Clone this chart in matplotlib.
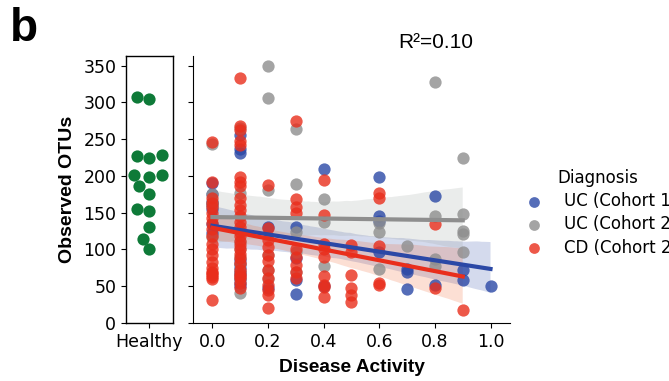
import matplotlib
matplotlib.use('Agg')
import numpy as np
import pandas as pd
import matplotlib.pyplot as plt
import seaborn as sns

# disease activity levels (x of the right panel)
activity = [0.0, 0.1, 0.2, 0.3, 0.4, 0.5, 0.6, 0.7, 0.8, 0.9, 1.0]

healthy_otus = [307, 304, 227, 224, 228, 201, 198, 201, 186, 176,
                155, 152, 131, 114, 100]

# observed OTUs per activity level, one list per level
uc1_otus = [
    [190, 175, 165, 160, 155, 135, 123],
    [256, 236, 231, 85, 80, 75, 70, 65, 60, 55, 50],
    [131, 48],
    [131, 88, 59, 40],
    [209, 50],
    [],
    [198, 145, 139, 97],
    [74, 70, 46],
    [172, 52],
    [72, 59],
    [50],
]
uc2_otus = [
    [243, 175, 165, 160, 117],
    [265, 177, 110, 100, 90, 80, 70, 60, 41],
    [350, 306, 181, 93, 72, 60],
    [264, 189, 124, 97, 70],
    [168, 138, 77],
    [],
    [136, 124, 74],
    [105],
    [327, 145, 87, 78],
    [224, 148, 125, 121, 96],
    [],
]
cd_otus = [
    [246, 192, 170, 163, 158, 150, 143, 136, 128, 118, 108, 100, 93, 83,
     75, 70, 68, 65, 62, 60, 31],
    [333, 268, 262, 248, 242, 199, 192, 186, 170, 161, 153, 145, 138, 131,
     124, 118, 112, 106, 100, 94, 88, 82, 72, 66, 64, 61, 54, 48],
    [188, 129, 113, 104, 93, 84, 72, 61, 52, 45, 38, 20],
    [274, 168, 158, 150, 100, 90, 79, 70, 61],
    [194, 147, 108, 100, 90, 64, 52, 49, 36],
    [106, 97, 65, 48, 38, 28],
    [177, 170, 105, 55, 52],
    [],
    [134, 48],
    [18],
    [],
]

groups = ['UC (Cohort 1)', 'UC (Cohort 2)', 'CD (Cohort 2)']
colors = ['#2b48a6', '#8e8e8e', '#e92e1c']
green = '#0e7a38'

rows = []
for name, table in zip(groups, [uc1_otus, uc2_otus, cd_otus]):
    for a, vals in zip(activity, table):
        for v in vals:
            rows.append((a, v, name))
df = pd.DataFrame(rows, columns=['activity', 'otus', 'diagnosis'])

fig = plt.figure(figsize=(6.69, 3.81), dpi=100)
ax_h = fig.add_axes([0.1883, 0.1522, 0.0703, 0.7008])
ax = fig.add_axes([0.2885, 0.1522, 0.4738, 0.7008])

# healthy panel
sns.swarmplot(x=['Healthy'] * len(healthy_otus), y=healthy_otus, color=green,
              size=8.8, ax=ax_h)
ax_h.set_ylim(0, 363)
ax_h.set_yticks(range(0, 351, 50))
ax_h.set_xlim(-0.5, 0.5)
ax_h.set_ylabel('Observed OTUs', fontsize=14, fontweight='bold',
                family='Liberation Sans', labelpad=5)
ax_h.tick_params(labelsize=12.5)
for s in ax_h.spines.values():
    s.set_linewidth(1.0)

# disease activity panel
for name, c in zip(groups, colors):
    d = df[df.diagnosis == name]
    ax.scatter(d.activity, d.otus, s=78, color=c, alpha=0.8, lw=0, label=name,
               zorder=1)
n_before = len(ax.collections)
for name, c in zip(groups, colors):
    d = df[df.diagnosis == name]
    sns.regplot(x=d.activity.values, y=d.otus.values, scatter=False, color=c,
                ax=ax, truncate=True, seed=0, line_kws=dict(lw=3, zorder=3))
band_colors = ['#2b48a6', '#9aa09c', '#f0602c']
for coll, bc in zip(ax.collections[n_before:], band_colors):
    coll.set_facecolor(bc)
    coll.set_alpha(0.2)
    coll.set_zorder(0.5)

ax.set_xlim(-0.07, 1.07)
ax.set_ylim(0, 363)
ax.set_yticks(range(0, 351, 50))
ax.set_xticks([0.0, 0.2, 0.4, 0.6, 0.8, 1.0])
ax.set_xticklabels(['0.0', '0.2', '0.4', '0.6', '0.8', '1.0'])
ax.tick_params(labelsize=12.5, labelleft=False)
ax.set_xlabel('Disease Activity', fontsize=13.8, fontweight='bold',
              family='Liberation Sans', labelpad=6)
ax.set_ylabel('')
ax.spines['top'].set_visible(False)
ax.spines['right'].set_visible(False)

leg = ax.legend(title='Diagnosis', loc='upper left', frameon=False,
                bbox_to_anchor=(0.764, 0.575), bbox_transform=fig.transFigure,
                fontsize=12, title_fontsize=12, handletextpad=0.75,
                labelspacing=0.32, borderaxespad=0)
for h in leg.legend_handles:
    h.set_sizes([60])

fig.text(436 / 669, 1 - 42 / 381, 'R²=0.10', ha='center', va='center',
         fontsize=15, family='Liberation Sans')
fig.text(10 / 669, 1 - 29 / 381, 'b', ha='left', va='center', fontsize=33,
         fontweight='bold', family='Liberation Sans')

fig.savefig('out.png', dpi=100)
